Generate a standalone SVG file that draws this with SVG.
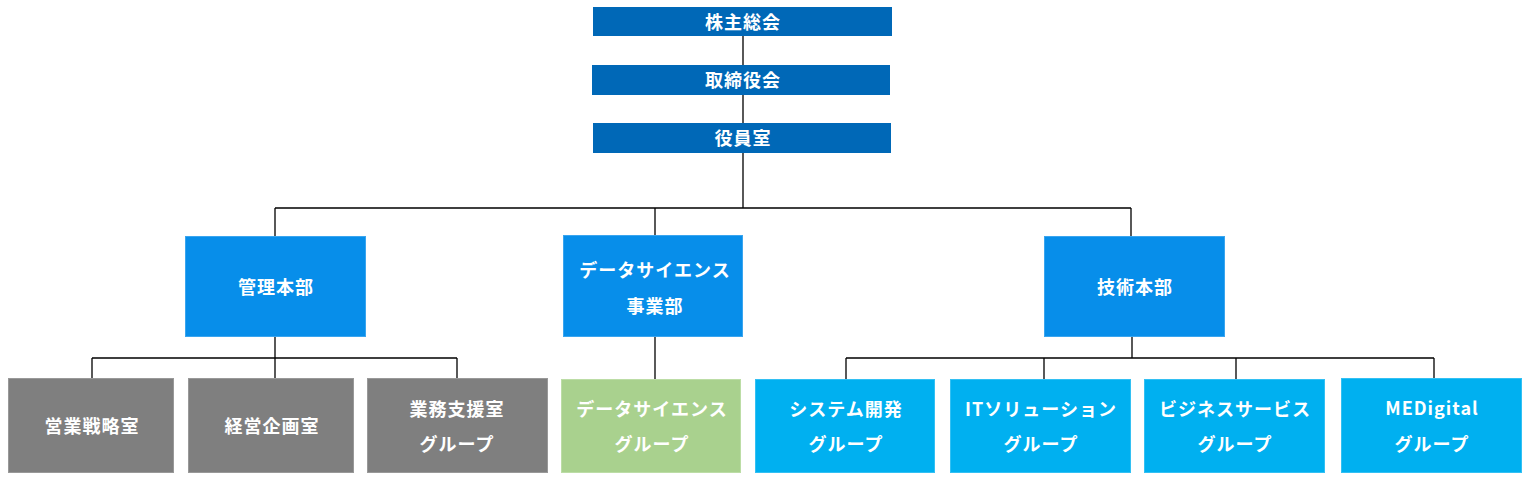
<svg xmlns="http://www.w3.org/2000/svg" width="1528" height="478" viewBox="0 0 1528 478">
<style>
.t{font-family:"Noto Sans CJK JP","Noto Sans",sans-serif;font-size:18px;font-weight:700;fill:#fff;text-anchor:middle;dominant-baseline:central;letter-spacing:1px}
.top{fill:#0068B7}
.mid{fill:#078EEA;stroke:#3AA5EF;stroke-width:1}
.grey{fill:#7F7F7F;stroke:#999;stroke-width:1}
.green{fill:#A9D18E;stroke:#BCDDA6;stroke-width:1}
.lb{fill:#00B0F0;stroke:#33C0F3;stroke-width:1}
.c{fill:none;stroke:#000;stroke-width:1.3}
</style>
<rect width="1528" height="478" fill="#fff"/>
<g id="connectors">
<path class="c" d="M743 36V65M743 95V123M743 153V208M275 208H1131M275 208V236M655 208V236M1131 208V236"/>
<path class="c" d="M275 337V378M92 358H457M92 358V378M457 358V378"/>
<path class="c" d="M655 337V379"/>
<path class="c" d="M1132 337V358M846 358H1434M846 358V379M1044 358V379M1236 358V379M1434 358V378"/>
</g>
<g id="n1"><rect class="top" x="593" y="7" width="299" height="29"/><text class="t" x="743" y="21">株主総会</text></g>
<g id="n2"><rect class="top" x="592" y="65" width="298" height="30"/><text class="t" x="743" y="79">取締役会</text></g>
<g id="n3"><rect class="top" x="593" y="123" width="298" height="30"/><text class="t" x="743" y="137">役員室</text></g>
<g id="n4"><rect class="mid" x="185.5" y="236.5" width="180" height="100"/><text class="t" x="276" y="286">管理本部</text></g>
<g id="n5"><rect class="mid" x="563.5" y="235.5" width="179" height="101"/><text class="t" x="655" y="269">データサイエンス</text><text class="t" x="655" y="305">事業部</text></g>
<g id="n6"><rect class="mid" x="1044.5" y="236.5" width="180" height="100"/><text class="t" x="1135" y="286">技術本部</text></g>
<g id="n7"><rect class="grey" x="8.5" y="378.5" width="165" height="94"/><text class="t" x="92" y="425">営業戦略室</text></g>
<g id="n8"><rect class="grey" x="188.5" y="378.5" width="165" height="94"/><text class="t" x="272" y="425">経営企画室</text></g>
<g id="n9"><rect class="grey" x="367.5" y="378.5" width="180" height="94"/><text class="t" x="457" y="408">業務支援室</text><text class="t" x="457" y="443">グループ</text></g>
<g id="n10"><rect class="green" x="561.5" y="379.5" width="179" height="93"/><text class="t" x="652" y="408">データサイエンス</text><text class="t" x="652" y="443">グループ</text></g>
<g id="n11"><rect class="lb" x="755.5" y="379.5" width="179" height="93"/><text class="t" x="846" y="408">システム開発</text><text class="t" x="846" y="443">グループ</text></g>
<g id="n12"><rect class="lb" x="950.5" y="379.5" width="180" height="93"/><text class="t" x="1041" y="408">ITソリューション</text><text class="t" x="1041" y="443">グループ</text></g>
<g id="n13"><rect class="lb" x="1144.5" y="379.5" width="180" height="93"/><text class="t" x="1235" y="408">ビジネスサービス</text><text class="t" x="1235" y="443">グループ</text></g>
<g id="n14"><rect class="lb" x="1341.5" y="378.5" width="180" height="94"/><text class="t" x="1432" y="407">MEDigital</text><text class="t" x="1432" y="443">グループ</text></g>
</svg>
